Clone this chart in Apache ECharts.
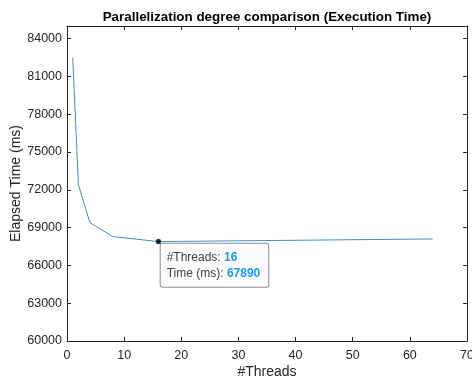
<!DOCTYPE html>
<html>
<head>
<meta charset="utf-8">
<script src="https://cdn.jsdelivr.net/npm/echarts@6/dist/echarts.min.js"></script>
<style>
  html, body { margin: 0; padding: 0; background: #fff; }
</style>
</head>
<body>
<div id="chart" style="width:472px;height:380px;"></div>
<script>
// data
var threads = [1, 2, 4, 8, 16, 32, 64];
var elapsed = [82500, 72400, 69400, 68290, 67890, 67960, 68100];
var tipPoint = [16, 67890];

var axisColor = '#262626';
var font = 'Liberation Sans, Arial, Helvetica, sans-serif';

var points = threads.map(function (t, i) { return [t, elapsed[i]]; });

var chart = echarts.init(document.getElementById('chart'));

function tick() {
    return { show: true, inside: true, length: 4, lineStyle: { color: axisColor, width: 1 } };
}
function line() {
    return { show: true, onZero: false, lineStyle: { color: axisColor, width: 1 } };
}

var option = {
    animation: false,
    title: {
        text: 'Parallelization degree comparison (Execution Time)',
        left: 262,
        textAlign: 'center',
        top: 6,
        textStyle: { fontFamily: font, fontSize: 13.4, fontWeight: 'bold', color: '#000' }
    },
    grid: { left: 67, right: 5, top: 26, bottom: 39, outerBoundsMode: 'none' },
    xAxis: [{
        type: 'value', min: 0, max: 70, interval: 10,
        position: 'bottom',
        name: '#Threads', nameLocation: 'middle', nameGap: 24, nameMoveOverlap: false,
        nameTextStyle: { fontFamily: font, fontSize: 14, color: axisColor },
        axisLine: line(), axisTick: tick(), splitLine: { show: false },
        axisLabel: { fontFamily: font, fontSize: 12.5, color: axisColor, margin: 8 }
    }, {
        type: 'value', min: 0, max: 70, interval: 10,
        position: 'top',
        axisLine: line(), axisTick: tick(), splitLine: { show: false },
        axisLabel: { show: false }
    }],
    yAxis: [{
        type: 'value', min: 60000, max: 85000, interval: 3000,
        position: 'left',
        name: 'Elapsed Time (ms)', nameLocation: 'middle', nameGap: 44, nameMoveOverlap: false,
        nameTextStyle: { fontFamily: font, fontSize: 14, color: axisColor },
        axisLine: line(), axisTick: tick(), splitLine: { show: false },
        axisLabel: {
            fontFamily: font, fontSize: 12.5, color: axisColor, margin: 5, showMaxLabel: false,
            formatter: function (v) { return String(v); }
        }
    }, {
        type: 'value', min: 60000, max: 85000, interval: 3000,
        position: 'right',
        axisLine: line(), axisTick: tick(), splitLine: { show: false },
        axisLabel: { show: false }
    }],
    series: [{
        type: 'line',
        data: points,
        showSymbol: false,
        lineStyle: { color: '#3a8fd3', width: 1 },
        itemStyle: { color: '#3a8fd3' },
        markPoint: {
            symbol: 'circle',
            symbolSize: 5,
            itemStyle: { color: '#1a1a1a', borderColor: '#444', borderWidth: 0.5 },
            data: [{
                coord: tipPoint,
                label: {
                    show: true,
                    position: 'insideTopLeft',
                    offset: [0, 0],
                    backgroundColor: '#fbfbfe',
                    borderColor: '#8c8c8c',
                    borderWidth: 1,
                    borderRadius: 2,
                    padding: [6, 8, 5, 6],
                    lineHeight: 16,
                    formatter: function () {
                        return '{k|#Threads: }{v|' + tipPoint[0] + '}\n{k|Time (ms): }{v|' + tipPoint[1] + '}';
                    },
                    rich: {
                        k: { fontFamily: font, fontSize: 12, color: '#404040', lineHeight: 16 },
                        v: { fontFamily: font, fontSize: 12, color: '#1a9cf0', fontWeight: 'bold', lineHeight: 16 }
                    }
                }
            }]
        }
    }]
};

chart.setOption(option);
window.addEventListener('resize', function () {
    chart.resize();
});
</script>
</body>
</html>
